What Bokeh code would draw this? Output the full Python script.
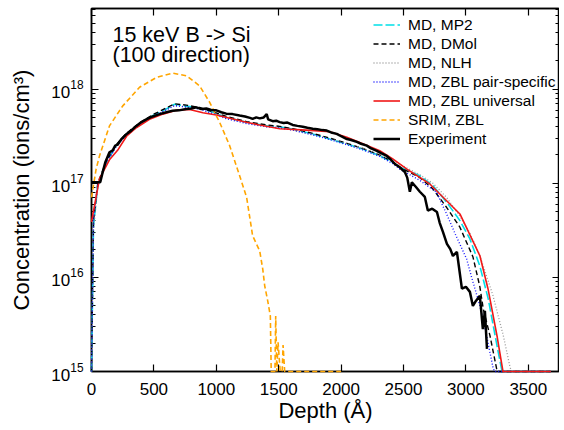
import numpy as np
from bokeh.plotting import figure
from bokeh.models import (Range1d, LinearAxis, Legend, LegendItem, Label,
                          LogTicker, SingleIntervalTicker, CustomJSTickFormatter)
from bokeh.embed import file_html
from bokeh.resources import INLINE

FONT = "Liberation Sans"

# ---- data (depth in Angstrom, log10 of concentration in ions/cm^3) ----
mp2_depth = [0, 16, 50, 118, 198, 278, 385, 492, 599, 666, 760, 866, 973, 1083, 1243, 1404, 1508, 1612, 1773, 1909,
             2046, 2174, 2310, 2414, 2471, 2631, 2736, 2845, 2952, 3032, 3112, 3179, 3219, 3259, 3290, 3680]
mp2_log = [15.0, 16.55, 16.975, 17.22, 17.40, 17.52, 17.63, 17.72, 17.79, 17.84, 17.82, 17.80, 17.755, 17.70, 17.648,
           17.611, 17.60, 17.576, 17.523, 17.47, 17.417, 17.364, 17.293, 17.223, 17.17, 17.08, 16.975, 16.80, 16.603,
           16.409, 16.12, 15.772, 15.488, 15.206, 15.0, 15.0]

dmol_depth = [0, 16, 50, 118, 198, 278, 385, 492, 599, 666, 760, 866, 973, 1083, 1243, 1404, 1508, 1612, 1773, 1909,
              2046, 2174, 2310, 2414, 2471, 2631, 2736, 2845, 2952, 3056, 3112, 3139, 3193, 3246, 3260, 3680]
dmol_log = [15.0, 16.6, 17.0, 17.23, 17.41, 17.53, 17.64, 17.73, 17.80, 17.845, 17.83, 17.805, 17.76, 17.71, 17.655,
            17.62, 17.605, 17.58, 17.53, 17.48, 17.425, 17.37, 17.30, 17.23, 17.17, 17.06, 16.94, 16.745, 16.533,
            16.22, 15.9, 15.666, 15.38, 15.03, 15.0, 15.0]

nlh_depth = [0, 16, 50, 118, 198, 278, 385, 492, 599, 666, 760, 866, 973, 1083, 1243, 1404, 1508, 1612, 1773, 1909,
             2046, 2174, 2310, 2414, 2531, 2631, 2736, 2845, 2952, 3032, 3112, 3217, 3300, 3353, 3365, 3680]
nlh_log = [15.0, 16.5, 16.96, 17.21, 17.39, 17.51, 17.62, 17.71, 17.78, 17.83, 17.81, 17.79, 17.745, 17.695, 17.64,
           17.60, 17.59, 17.565, 17.515, 17.47, 17.42, 17.37, 17.30, 17.24, 17.16, 17.09, 17.0, 16.85, 16.65, 16.47,
           16.23, 15.807, 15.38, 15.05, 15.0, 15.0]

zblp_depth = [0, 16, 50, 118, 198, 278, 385, 492, 599, 666, 760, 866, 973, 1083, 1243, 1404, 1508, 1612, 1773, 1909,
              2046, 2174, 2310, 2414, 2471, 2631, 2765, 2845, 2920, 3006, 3046, 3112, 3166, 3219, 3230, 3680]
zblp_log = [15.0, 16.62, 16.98, 17.22, 17.39, 17.51, 17.62, 17.71, 17.78, 17.825, 17.81, 17.79, 17.74, 17.685, 17.635,
            17.60, 17.59, 17.565, 17.515, 17.465, 17.41, 17.355, 17.285, 17.21, 17.15, 17.03, 16.905, 16.674, 16.444,
            16.196, 16.0, 15.70, 15.38, 15.03, 15.0, 15.0]

zblu_depth = [0, 64, 144, 209, 281, 359, 465, 572, 679, 786, 893, 1000, 1133, 1241, 1348, 1508, 1720, 1909, 2046,
              2174, 2310, 2414, 2527, 2711, 2952, 3112, 3177, 3249, 3297, 3310, 3680]
zblu_log = [16.59, 17.05, 17.25, 17.35, 17.50, 17.59, 17.68, 17.735, 17.775, 17.785, 17.75, 17.725, 17.683, 17.648,
            17.619, 17.58, 17.565, 17.548, 17.488, 17.42, 17.346, 17.26, 17.15, 16.993, 16.674, 16.23, 15.88, 15.38,
            15.0, 15.0, 15.0]

srim_depth = [0, 37, 64, 144, 249, 385, 521, 650, 762, 866, 947, 1027, 1107, 1187, 1243, 1291, 1348, 1372, 1388, 1412,
              1433, 1440, 1470, 1476, 1485, 1495, 1512, 1528, 1535, 1548, 2000]
srim_log = [16.85, 17.15, 17.29, 17.61, 17.82, 18.02, 18.125, 18.17, 18.142, 18.036, 17.86, 17.647, 17.40, 17.08,
            16.85, 16.444, 16.28, 16.09, 15.91, 15.75, 15.59, 15.0, 15.0, 15.59, 15.0, 15.31, 15.0, 15.0, 15.28, 15.0,
            15.0]

exp_depth = [0, 70, 90, 110, 144, 170, 190, 209, 240, 278, 310, 359, 400, 439, 490, 546, 600, 650, 700, 760, 800, 840,
             880, 920, 960, 1000, 1040, 1080, 1130, 1187, 1230, 1270, 1291, 1320, 1348, 1380, 1404, 1415, 1452, 1480,
             1508, 1540, 1570, 1612, 1650, 1693, 1730, 1773, 1810, 1850, 1885, 1920, 1965, 2000, 2046, 2080, 2126,
             2160, 2206, 2240, 2286, 2320, 2366, 2400, 2431, 2470, 2511, 2530, 2551, 2567, 2600, 2631, 2671, 2695,
             2730, 2768, 2790, 2816, 2848, 2875, 2896, 2928, 2968, 3000, 3032, 3056, 3080, 3112, 3136, 3152, 3169]
exp_log = [17.011, 17.011, 17.12, 17.22, 17.33, 17.35, 17.40, 17.41, 17.47, 17.52, 17.55, 17.61, 17.65, 17.68, 17.71,
           17.735, 17.755, 17.77, 17.775, 17.79, 17.795, 17.807, 17.79, 17.795, 17.78, 17.775, 17.755, 17.74, 17.735,
           17.72, 17.71, 17.695, 17.685, 17.70, 17.69, 17.70, 17.735, 17.68, 17.66, 17.665, 17.65, 17.64, 17.645,
           17.62, 17.61, 17.60, 17.59, 17.58, 17.575, 17.565, 17.56, 17.54, 17.525, 17.50, 17.47, 17.46, 17.44, 17.42,
           17.40, 17.37, 17.345, 17.32, 17.29, 17.25, 17.205, 17.17, 17.12, 17.06, 16.91, 17.01, 16.96, 16.91, 16.855,
           16.71, 16.73, 16.695, 16.58, 16.483, 16.356, 16.30, 16.228, 16.271, 15.88, 15.90, 15.846, 15.697, 15.75,
           15.804, 15.45, 15.644, 15.24]

series_labels = ["MD, MP2", "MD, DMol", "MD, NLH", "MD, ZBL pair-specific", "MD, ZBL universal", "SRIM, ZBL",
                 "Experiment"]
x_ticks_interval = 500
title_lines = ["15 keV B -> Si", "(100 direction)"]


def conc(a):
    return np.power(10.0, np.asarray(a, dtype=float))


p = figure(output_backend="svg", toolbar_location=None, y_axis_type="log",
           x_range=Range1d(0, 3750), y_range=Range1d(1e15, 7.2e18),
           frame_width=468, frame_height=363,
           min_border_left=91, min_border_right=0, min_border_top=8, min_border_bottom=40)
p.background_fill_color = "white"
p.border_fill_color = "white"
p.grid.visible = False
p.outline_line_color = "black"
p.outline_line_width = 1.5

xt = SingleIntervalTicker(interval=x_ticks_interval, num_minor_ticks=0)
p.xaxis.ticker = xt
p.yaxis.ticker = LogTicker(num_minor_ticks=10)


def style(ax):
    ax.axis_line_width = 1.5
    ax.axis_line_color = "black"
    ax.major_tick_in = 7
    ax.major_tick_out = 0
    ax.minor_tick_in = 4
    ax.minor_tick_out = 0
    ax.major_tick_line_width = 1.2
    ax.minor_tick_line_width = 1.0
    ax.major_label_text_font = FONT
    ax.major_label_text_font_size = "17px"
    ax.major_label_text_color = "black"
    ax.axis_label_text_font = FONT
    ax.axis_label_text_font_size = "22px"
    ax.axis_label_text_font_style = "normal"
    ax.axis_label_text_color = "black"


for ax in p.xaxis + p.yaxis:
    style(ax)
p.xaxis.axis_label = "Depth (Å)"
p.yaxis.axis_label = "Concentration (ions/cm³)"
p.xaxis.major_label_standoff = 11
p.xaxis.axis_label_standoff = 0
p.yaxis.major_label_standoff = 8
p.yaxis.axis_label_standoff = 14

blank = CustomJSTickFormatter(code="return ''")
top = LinearAxis(ticker=xt, formatter=blank)
right = LinearAxis(ticker=LogTicker(num_minor_ticks=10), formatter=blank)
for ax in (top, right):
    style(ax)
    ax.major_label_standoff = 0
p.add_layout(top, "above")
p.add_layout(right, "right")

specs = [
    (mp2_depth, mp2_log, dict(line_color="#00e0e8", line_width=1.6, line_dash="9 3")),
    (dmol_depth, dmol_log, dict(line_color="black", line_width=1.4, line_dash="5 3")),
    (nlh_depth, nlh_log, dict(line_color="#9a9a9a", line_width=1.3, line_dash="1 2")),
    (zblp_depth, zblp_log, dict(line_color="#1010ff", line_width=1.4, line_dash="1 2")),
    (zblu_depth, zblu_log, dict(line_color="#f01818", line_width=1.6)),
    (srim_depth, srim_log, dict(line_color="#ffa500", line_width=1.6, line_dash="5 3")),
    (exp_depth, exp_log, dict(line_color="black", line_width=2.5)),
]
renderers = []
for d, lg, style_kw in specs:
    r = p.line(d, conc(lg), **style_kw)
    r.level = "overlay"
    renderers.append(r)

legend = Legend(items=[LegendItem(label=lab, renderers=[r]) for lab, r in zip(series_labels, renderers)],
                location=(282, 223), label_text_font=FONT, label_text_font_size="15.5px",
                label_text_color="black", glyph_width=27, glyph_height=19, label_height=19,
                spacing=0, padding=4, margin=0, label_standoff=8,
                border_line_color=None, background_fill_alpha=0)
p.add_layout(legend)

p.add_layout(Label(x=168, y=3.74e18, text=title_lines[0], text_font=FONT, text_font_size="21.5px",
                   text_baseline="alphabetic", text_color="black"))
p.add_layout(Label(x=168, y=2.28e18, text=title_lines[1], text_font=FONT, text_font_size="21.5px",
                   text_baseline="alphabetic", text_color="black"))

open("out.html", "w").write(file_html(p, INLINE))
